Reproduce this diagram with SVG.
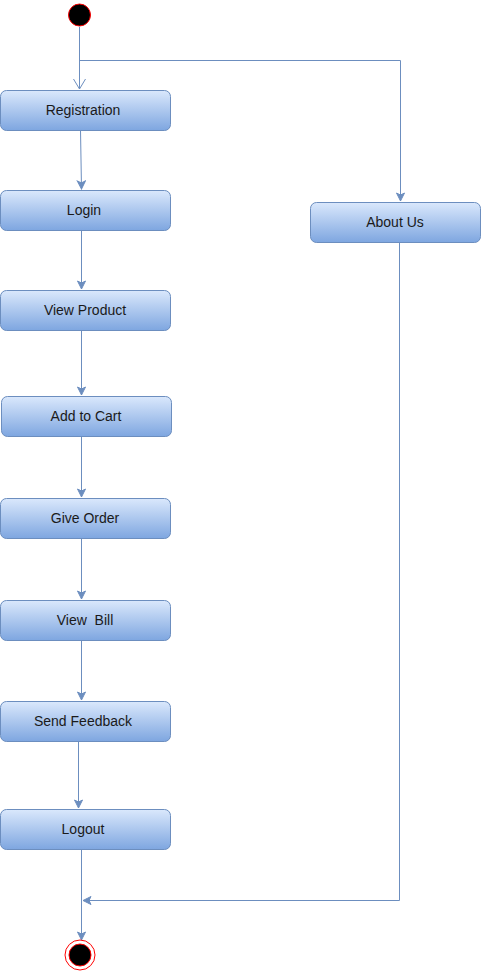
<svg xmlns="http://www.w3.org/2000/svg" width="481" height="971" viewBox="0 0 481 971">
<defs>
<linearGradient id="g" x1="0" y1="0" x2="0" y2="1">
<stop offset="0" stop-color="#dae8fc"/>
<stop offset="1" stop-color="#7ea6e0"/>
</linearGradient>
<marker id="arr" markerUnits="userSpaceOnUse" markerWidth="10" markerHeight="10" viewBox="0 0 10 10" refX="9" refY="5" orient="auto">
<path d="M1,1 L9,5 L1,9 L3,5 Z" fill="#6c8ebf" stroke="#6c8ebf" stroke-width="1"/>
</marker>
<marker id="open" markerUnits="userSpaceOnUse" markerWidth="12" markerHeight="14" viewBox="0 0 12 14" refX="11" refY="7" orient="auto">
<path d="M1,1 L11,7 L1,13" fill="none" stroke="#6c8ebf" stroke-width="1"/>
</marker>
</defs>
<style>
.box{fill:url(#g);stroke:#6c8ebf;stroke-width:1}
.lbl{font-family:"Liberation Sans",Arial,sans-serif;font-size:14px;fill:#1a1a1a;text-anchor:middle;dominant-baseline:central}
.c{fill:none;stroke:#6c8ebf;stroke-width:1}
</style>
<g id="connectors">
<line class="c" x1="79.5" y1="27" x2="79.5" y2="89" marker-end="url(#open)"/>
<polyline class="c" points="79.5,60.5 400.5,60.5 400.5,201" marker-end="url(#arr)"/>
<line class="c" x1="80.5" y1="130" x2="81.5" y2="189" marker-end="url(#arr)"/>
<line class="c" x1="81.5" y1="230" x2="81.5" y2="289" marker-end="url(#arr)"/>
<line class="c" x1="81.5" y1="330" x2="81.5" y2="395" marker-end="url(#arr)"/>
<line class="c" x1="81.5" y1="436" x2="81.5" y2="497" marker-end="url(#arr)"/>
<line class="c" x1="81.5" y1="538" x2="81.5" y2="599" marker-end="url(#arr)"/>
<line class="c" x1="81.5" y1="640" x2="81.5" y2="700" marker-end="url(#arr)"/>
<line class="c" x1="78.5" y1="741" x2="78.5" y2="808" marker-end="url(#arr)"/>
<line class="c" x1="81.5" y1="849" x2="81.5" y2="940" marker-end="url(#arr)"/>
<polyline class="c" points="399.5,242 399.5,900.5 83,900.5" marker-end="url(#arr)"/>
</g>
<g id="start"><circle cx="79.5" cy="15" r="11" fill="#000" stroke="#ff0000" stroke-width="1"/></g>
<g id="registration"><rect class="box" x="0.5" y="90.5" width="170" height="40" rx="6"/><text class="lbl" x="83" y="110">Registration</text></g>
<g id="login"><rect class="box" x="0.5" y="190.5" width="170" height="40" rx="6"/><text class="lbl" x="84" y="210">Login</text></g>
<g id="viewproduct"><rect class="box" x="0.5" y="290.5" width="170" height="40" rx="6"/><text class="lbl" x="85" y="310">View Product</text></g>
<g id="addtocart"><rect class="box" x="1.5" y="396.5" width="170" height="40" rx="6"/><text class="lbl" x="86" y="416">Add to Cart</text></g>
<g id="giveorder"><rect class="box" x="0.5" y="498.5" width="170" height="40" rx="6"/><text class="lbl" x="85" y="518">Give Order</text></g>
<g id="viewbill"><rect class="box" x="0.5" y="600.5" width="170" height="40" rx="6"/><text class="lbl" x="85" y="620" xml:space="preserve">View  Bill</text></g>
<g id="sendfeedback"><rect class="box" x="0.5" y="701.5" width="170" height="40" rx="6"/><text class="lbl" x="83" y="721">Send Feedback</text></g>
<g id="logout"><rect class="box" x="0.5" y="809.5" width="170" height="40" rx="6"/><text class="lbl" x="83" y="829">Logout</text></g>
<g id="aboutus"><rect class="box" x="310.5" y="202.5" width="170" height="40" rx="6"/><text class="lbl" x="395" y="222">About Us</text></g>
<g id="end"><circle cx="80" cy="955" r="15" fill="#fff" stroke="#ff0000" stroke-width="1"/><circle cx="80" cy="955" r="11" fill="#000" stroke="#ff0000" stroke-width="1"/></g>
</svg>
